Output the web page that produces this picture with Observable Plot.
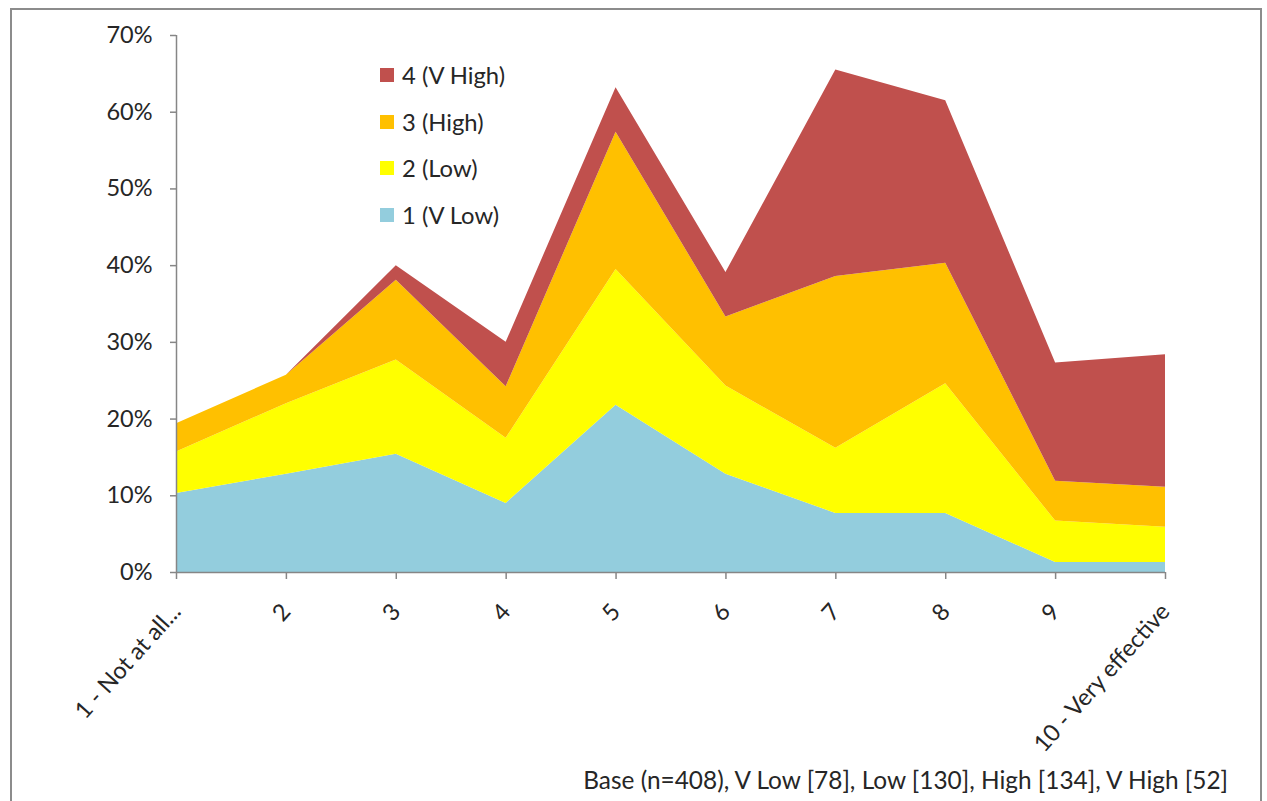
<!DOCTYPE html>
<html>
<head>
<meta charset="utf-8">
<script src="https://cdn.jsdelivr.net/npm/d3@7"></script>
<script src="https://cdn.jsdelivr.net/npm/@observablehq/plot@0.6"></script>
<style>
  html, body { margin: 0; padding: 0; background: #fff; overflow: hidden; }
  #wrap { position: relative; width: 1267px; height: 801px; font-family: Lato, "Open Sans", sans-serif; color: #262626; }
  #frame { position: absolute; left: 10px; top: 8px; width: 1252px; height: 820px; border: 2px solid #8c8c8c; box-sizing: border-box; pointer-events: none; }
  #chart { position: absolute; left: 0; top: 0; }
  .leg { position: absolute; left: 380px; font-size: 23.8px; height: 28px; line-height: 28px; white-space: nowrap; display: flex; align-items: center; }
  .leg span.sw { display: inline-block; width: 14px; height: 14px; margin-right: 8px; }
  #caption { position: absolute; right: 39px; top: 766px; font-size: 24.4px; line-height: 28px; white-space: nowrap; }
</style>
</head>
<body>
<div id="wrap">
  <div id="chart"></div>
  <div id="legend"></div>
  <div id="caption"></div>
  <div id="frame"></div>
</div>
<script>
const categories = ["1 - Not at all...", "2", "3", "4", "5", "6", "7", "8", "9", "10 - Very effective"];
const seriesNames = ["1 (V Low)", "2 (Low)", "3 (High)", "4 (V High)"];
const vLow  = [10.3, 12.8, 15.4, 9.0, 21.8, 12.8, 7.7, 7.7, 1.3, 1.3];
const low   = [5.4, 9.2, 12.3, 8.5, 17.7, 11.5, 8.5, 16.9, 5.4, 4.6];
const high  = [3.7, 3.7, 10.4, 6.7, 17.9, 9.0, 22.4, 15.7, 5.2, 5.2];
const vHigh = [0, 0, 1.9, 5.8, 5.8, 5.8, 26.9, 21.2, 15.4, 17.3];
const seriesColors = ["#93CDDD", "#FFFF00", "#FFC000", "#C0504D"];
const yTicks = [0, 10, 20, 30, 40, 50, 60, 70];
const captionText = "Base (n=408), V Low [78], Low [130], High [134], V High [52]";

const seriesValues = [vLow, low, high, vHigh];
const data = [];
seriesNames.forEach((s, k) => {
  seriesValues[k].forEach((v, i) => data.push({cat: i, series: s, value: v}));
});

const axisColor = "#868686";
const fs = 23.5;
const chart = Plot.plot({
  width: 1267,
  height: 801,
  marginLeft: 176,
  marginRight: 102,
  marginTop: 35,
  marginBottom: 229,
  x: {domain: [0, categories.length - 1], label: null},
  y: {domain: [0, 70], label: null},
  color: {domain: seriesNames, range: seriesColors},
  style: {fontFamily: "Lato, 'Open Sans', sans-serif", fontSize: fs + "px", color: "#262626", background: "transparent"},
  marks: [
    Plot.areaY(data, {x: "cat", y: "value", z: "series", fill: "series", order: seriesNames}),
    Plot.ruleX([0], {y1: 0, y2: 70, stroke: axisColor, strokeWidth: 1.5}),
    Plot.ruleY([0], {x1: 0, x2: categories.length - 1, stroke: axisColor, strokeWidth: 1.5}),
    Plot.axisY({ticks: yTicks, tickFormat: d => d + "%", tickSize: 6, tickPadding: 18, stroke: axisColor, fill: "#262626", strokeWidth: 1.5, label: null, fontSize: fs}),
    Plot.axisX({ticks: d3.range(categories.length), tickFormat: i => categories[i], tickSize: 7, tickPadding: 28, tickRotate: -48, stroke: axisColor, fill: "#262626", strokeWidth: 1.5, label: null, fontSize: fs})
  ]
});
document.getElementById("chart").appendChild(chart);

const legend = document.getElementById("legend");
const legendOrder = [3, 2, 1, 0];
legendOrder.forEach((k, r) => {
  const d = document.createElement("div");
  d.className = "leg";
  d.style.top = (61 + r * 46.7) + "px";
  d.innerHTML = `<span class="sw" style="background:${seriesColors[k]}"></span>${seriesNames[k]}`;
  legend.appendChild(d);
});
document.getElementById("caption").textContent = captionText;
</script>
</body>
</html>
